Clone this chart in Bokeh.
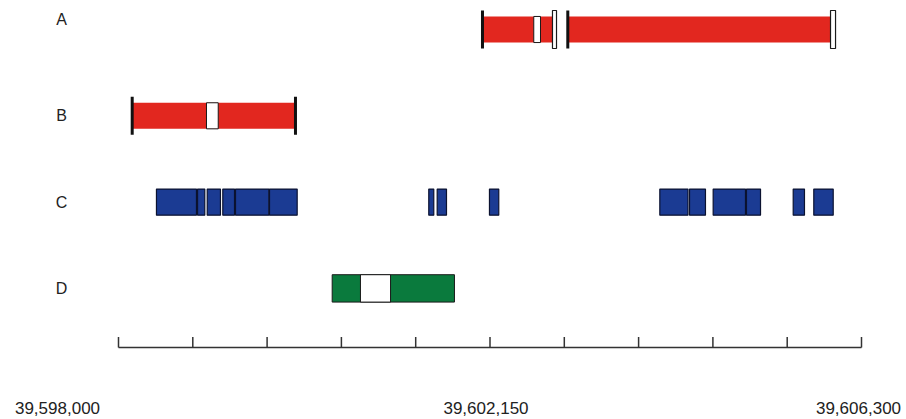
from bokeh.plotting import figure
from bokeh.models import Range1d
from bokeh.core.properties import value
from bokeh.embed import file_html
from bokeh.resources import INLINE

# ---------------- data ----------------
rows = ["A", "B", "C", "D"]

# red transcript bodies (rows A, B)
red_row = ["A", "A", "B"]
red_start = [39602066, 39603019, 39598153]
red_end = [39602848, 39605954, 39599977]

# black end caps
cap_row = ["A", "A", "B", "B"]
cap_pos = [39602066, 39603019, 39598153, 39599977]

# white (open) end caps
wcap_row = ["A", "A"]
wcap_start = [39602848, 39605954]
wcap_end = [39602893, 39606010]

# white gaps inside features
gap_row = ["A", "B", "D"]
gap_start = [39602639, 39598983, 39600703]
gap_end = [39602714, 39599114, 39601039]

# blue blocks (row C)
blue_start = [39598424, 39598883, 39598991, 39599165, 39599307, 39599687,
              39601466, 39601560, 39602144,
              39604047, 39604379, 39604643, 39605015, 39605537, 39605767]
blue_end = [39598871, 39598964, 39599139, 39599296, 39599679, 39599996,
            39601522, 39601664, 39602248,
            39604362, 39604557, 39605004, 39605172, 39605663, 39605984]

# green block (row D)
green_start = [39600387]
green_end = [39601753]

# axis
axis_start = 39598000
axis_step = 830
axis_n = 11
tick_label_pos = [39598000, 39602150, 39606300]
tick_labels = ["39,598,000", "39,602,150", "39,606,300"]

# ---------------- layout ----------------
W, H = 906, 419
px_per_bp = 743 / 8300.0
x0 = axis_start - 118 / px_per_bp
x1 = x0 + W / px_per_bp
row_px = 86.3
top_px = 29.0
y_top = -top_px / row_px
y_bot = (H - top_px) / row_px

p = figure(width=W, height=H, output_backend="svg", toolbar_location=None,
           x_range=Range1d(x0, x1), y_range=Range1d(y_bot, y_top),
           min_border=0, min_border_left=0, min_border_right=0,
           min_border_top=0, min_border_bottom=0)
p.axis.visible = False
p.xgrid.visible = False
p.ygrid.visible = False
p.outline_line_color = None
p.background_fill_color = "white"
p.border_fill_color = "white"

ri = {r: i for i, r in enumerate(rows)}
bar_h = 0.151
cap_h = 0.22

RED = "#E2271F"
BLUE = "#1B3B93"
GREEN = "#0A7A3D"

# red bodies
p.quad(left=red_start, right=red_end,
       top=[ri[r] - bar_h for r in red_row], bottom=[ri[r] + bar_h for r in red_row],
       fill_color=RED, line_color=None)

# green body
p.quad(left=green_start, right=green_end,
       top=[ri["D"] - bar_h * 1.05] * len(green_start),
       bottom=[ri["D"] + bar_h * 1.05] * len(green_start),
       fill_color=GREEN, line_color="#1a1a1a", line_width=1)

# gaps
p.quad(left=gap_start, right=gap_end,
       top=[ri[r] - (bar_h * 1.05 if r == "D" else bar_h) for r in gap_row],
       bottom=[ri[r] + (bar_h * 1.05 if r == "D" else bar_h) for r in gap_row],
       fill_color="white", line_color="#1a1a1a", line_width=1)

# blue blocks
p.quad(left=blue_start, right=blue_end,
       top=[ri["C"] - bar_h] * len(blue_start), bottom=[ri["C"] + bar_h] * len(blue_start),
       fill_color=BLUE, line_color="#0b1230", line_width=1.2)

# black caps
p.segment(x0=cap_pos, x1=cap_pos,
          y0=[ri[r] - cap_h for r in cap_row], y1=[ri[r] + cap_h for r in cap_row],
          line_color="#111111", line_width=3)

# white caps
p.quad(left=wcap_start, right=wcap_end,
       top=[ri[r] - cap_h for r in wcap_row], bottom=[ri[r] + cap_h for r in wcap_row],
       fill_color="white", line_color="#1a1a1a", line_width=1.2)

# row labels
lab_x = x0 + 61 / px_per_bp
p.text(x=[lab_x] * 4, y=[ri[r] for r in rows], text=rows,
       y_offset=[-10.5, 0, 0, 0],
       text_font=value("Liberation Sans"), text_font_size="16px",
       text_color="#222222", text_align="center", text_baseline="middle")

# axis
ticks = [axis_start + axis_step * i for i in range(axis_n)]
axis_y = 347 / row_px + y_top
tick_top = 336.5 / row_px + y_top
p.segment(x0=[ticks[0]], x1=[ticks[-1]], y0=[axis_y], y1=[axis_y],
          line_color="#333333", line_width=1.5)
p.segment(x0=ticks, x1=ticks, y0=[tick_top] * len(ticks), y1=[axis_y] * len(ticks),
          line_color="#333333", line_width=1.5)

lab_y = 407.5 / row_px + y_top
p.text(x=tick_label_pos, y=[lab_y] * len(tick_label_pos), text=tick_labels,
       x_offset=[-61, -4, -3],
       text_font=value("Liberation Sans"), text_font_size="17px",
       text_color="#222222", text_align="center", text_baseline="middle")

open("out.html", "w").write(file_html(p, INLINE))
